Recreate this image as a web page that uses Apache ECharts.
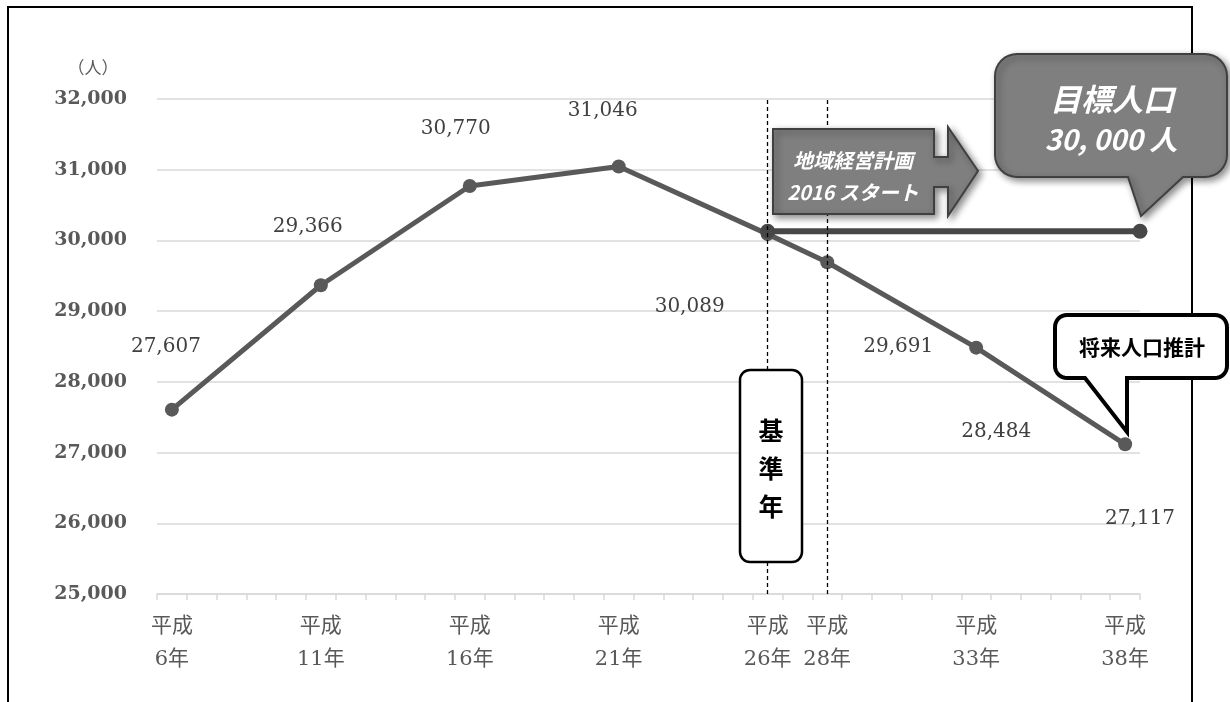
<!DOCTYPE html>
<html>
<head>
<meta charset="utf-8">
<script src="https://cdn.jsdelivr.net/npm/echarts@6/dist/echarts.min.js"></script>
<style>
html,body{margin:0;padding:0;background:#fff;}
#chart{width:1230px;height:702px;}
</style>
</head>
<body>
<div id="chart"></div>
<script>
// Category years (平成)
const years = ['6','7','8','9','10','11','12','13','14','15','16','17','18','19','20','21','22','23','24','25','26','27','28','29','30','31','32','33','34','35','36','37','38'];
// Labelled / data years and population
const dataYears = ['6','11','16','21','26','28','33','38'];
const population = [27607, 29366, 30770, 31046, 30089, 29691, 28484, 27117];
// Target population line (year, value)
const targetYears = [26, 38.5];
const targetValues = [30130, 30130];
// y-axis range
const yMin = 25000, yMax = 32000, yStep = 1000;
// Reference year markers
const markerYears = ['26', '28'];

// label offsets (layout only)
const labelOffsets = [[-6,-63],[-13,-58],[-14,-57],[-16,-56],[-78,73],[71,85],[20,84],[15,74]];

const mainData = years.map(y => {
  const i = dataYears.indexOf(y);
  if (i < 0) return null;
  return {
    value: population[i],
    label: { show: true, position: 'inside', offset: labelOffsets[i] }
  };
});

// rounded rectangle with a tail on the bottom edge, as polygon points
function arcPts(cx, cy, r, a0, a1) {
  const pts = [];
  const n = 8;
  for (let k = 0; k <= n; k++) {
    const a = (a0 + (a1 - a0) * k / n) * Math.PI / 180;
    pts.push([cx + r * Math.cos(a), cy + r * Math.sin(a)]);
  }
  return pts;
}
function callout(x, y, w, h, r, tx1, tx2, tipX, tipY) {
  let p = [];
  p = p.concat(arcPts(x + r, y + r, r, 180, 270));
  p = p.concat(arcPts(x + w - r, y + r, r, 270, 360));
  p = p.concat(arcPts(x + w - r, y + h - r, r, 0, 90));
  p.push([tx2, y + h], [tipX, tipY], [tx1, y + h]);
  p = p.concat(arcPts(x + r, y + h - r, r, 90, 180));
  return p;
}

const chart = echarts.init(document.getElementById('chart'));
const serif = '"DejaVu Serif", "Noto Sans CJK JP", serif';
const jp = '"Noto Sans CJK JP", sans-serif';
const shadow = { shadowBlur: 7, shadowColor: 'rgba(0,0,0,0.45)', shadowOffsetX: 3, shadowOffsetY: 3 };

chart.setOption({
  animation: false,
  backgroundColor: '#fff',
  grid: { left: 157, right: 90, top: 99, bottom: 108, containLabel: false },
  xAxis: [{
    type: 'category',
    data: years,
    boundaryGap: true,
    axisLine: { show: true, lineStyle: { color: '#d9d9d9', width: 1.5 } },
    axisTick: { show: true, interval: 0, length: 6, lineStyle: { color: '#d9d9d9', width: 1.5 } },
    axisLabel: {
      interval: (idx, val) => dataYears.indexOf(val) >= 0,
      formatter: v => '平成\n' + v + '年',
      color: '#595959', fontSize: 21, lineHeight: 33, margin: 16, fontFamily: serif
    },
    splitLine: { show: false }
  }, {
    type: 'value', min: 5.5, max: 38.5, show: false
  }],
  yAxis: {
    type: 'value', min: yMin, max: yMax, interval: yStep,
    axisLine: { show: false }, axisTick: { show: false },
    axisLabel: {
      formatter: v => v.toLocaleString('en-US'),
      color: '#595959', fontSize: 19, fontWeight: 'bold', margin: 30, fontFamily: serif
    },
    splitLine: { lineStyle: { color: '#d9d9d9', width: 1.5 } }
  },
  series: [{
    type: 'line',
    data: mainData,
    connectNulls: true,
    symbol: 'circle', symbolSize: 14,
    lineStyle: { color: '#595959', width: 5 },
    itemStyle: { color: '#595959' },
    label: { color: '#404040', fontSize: 20, fontFamily: serif, formatter: p => p.value.toLocaleString('en-US') },
    markLine: {
      silent: true, symbol: 'none', label: { show: false },
      lineStyle: { color: '#000', type: [4, 3], width: 1.3 },
      data: markerYears.map(y => ({ xAxis: y }))
    },
    z: 3
  }, {
    type: 'line',
    xAxisIndex: 1,
    data: targetYears.map((y, i) => [y, targetValues[i]]),
    symbol: 'circle', symbolSize: 15,
    lineStyle: { color: '#474747', width: 6 },
    itemStyle: { color: '#474747' },
    z: 4
  }],
  graphic: [
    // outer frame
    { type: 'polyline', shape: { points: [[8,702],[8,7],[1192,7],[1192,702]] }, style: { stroke: '#000', lineWidth: 2, fill: null }, z: 1 },
    // unit
    { type: 'text', style: { text: '（人）', x: 93, y: 68, align: 'center', verticalAlign: 'middle', font: '17px ' + jp, fill: '#595959' }, z: 10 },
    // 基準年 box
    { type: 'rect', shape: { x: 740, y: 370, width: 62, height: 192, r: 10 }, style: { fill: '#fff', stroke: '#000', lineWidth: 2.5 }, z: 10 },
    { type: 'text', style: { text: '基\n準\n年', x: 771, y: 468, align: 'center', verticalAlign: 'middle', lineHeight: 38, font: 'bold 25px ' + jp, fill: '#000' }, z: 11 },
    // arrow callout
    { type: 'polygon', shape: { points: [[773,129],[934,129],[934,157],[948,157],[948,127],[978,171],[948,216],[948,187],[934,187],[934,214],[773,214]] },
      style: Object.assign({ fill: '#7f7f7f', stroke: '#404040', lineWidth: 2 }, shadow), z: 10 },
    { type: 'text', style: { text: '地域経営計画', x: 853, y: 160, align: 'center', verticalAlign: 'middle', font: 'italic bold 20px ' + jp, fill: '#fff' }, z: 11 },
    { type: 'text', style: { text: '2016 スタート', x: 853, y: 192, align: 'center', verticalAlign: 'middle', font: 'italic bold 20px ' + jp, fill: '#fff' }, z: 11 },
    // target callout
    { type: 'polygon', shape: { points: callout(995, 54, 232, 123, 22, 1128, 1183, 1141, 216) },
      style: Object.assign({ fill: '#7f7f7f', stroke: '#404040', lineWidth: 2 }, shadow), z: 10 },
    { type: 'text', style: { text: '目標人口', x: 1112, y: 99, align: 'center', verticalAlign: 'middle', font: 'italic bold 31px ' + jp, fill: '#fff' }, z: 11 },
    { type: 'text', style: { text: '30, 000 人', x: 1111, y: 139, align: 'center', verticalAlign: 'middle', font: 'italic bold 28px ' + jp, fill: '#fff' }, z: 11 },
    // projection callout
    { type: 'polygon', shape: { points: callout(1055, 315, 172, 63, 12, 1085, 1127, 1127, 432) },
      style: { fill: '#fff', stroke: '#000', lineWidth: 4, lineJoin: 'miter' }, z: 10 },
    { type: 'text', style: { text: '将来人口推計', x: 1142, y: 347, align: 'center', verticalAlign: 'middle', font: 'bold 21px ' + jp, fill: '#000' }, z: 11 }
  ]
});
</script>
</body>
</html>
